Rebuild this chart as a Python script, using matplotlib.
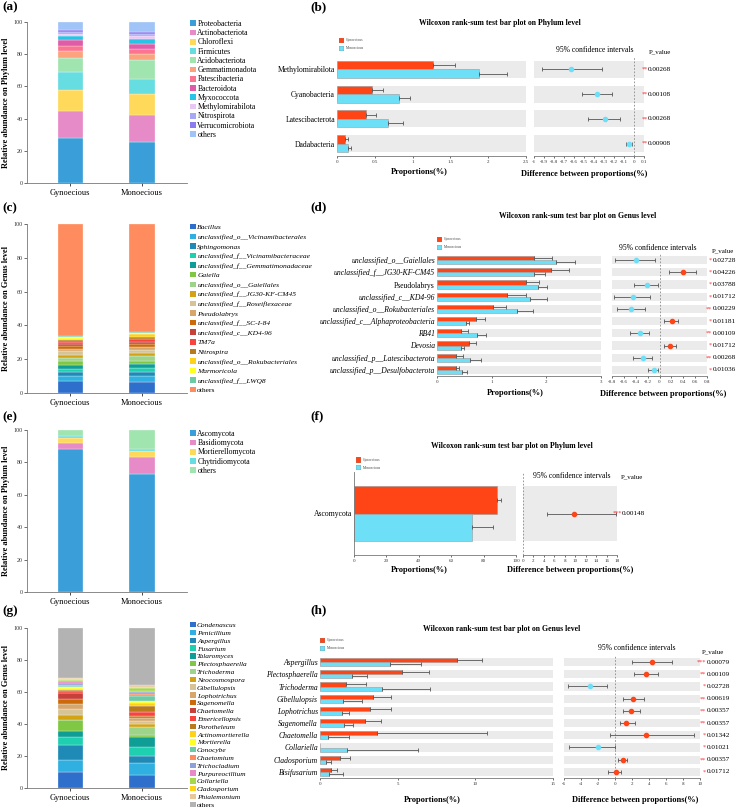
import matplotlib

matplotlib.use("Agg")
import matplotlib.pyplot as plt
import matplotlib.transforms as mtransforms
from matplotlib.patches import Patch
import numpy as np

plt.rcParams["font.family"] = ["Liberation Serif", "DejaVu Serif"]

W, H = 738, 810
GROUPS = ["Gynoecious", "Monoecious"]
RED = "#ff4516"
CYAN = "#6ddff7"
BAND = "#ebebeb"

# ---- (a) bacteria, phylum level (segment sizes, %) ----
PHY_B_NAMES = ["Proteobacteria", "Actinobacteriota", "Chloroflexi", "Firmicutes",
               "Acidobacteriota", "Gemmatimonadota", "Patescibacteria", "Bacteroidota",
               "Myxococcota", "Methylomirabilota", "Nitrospirota", "Verrucomicrobiota",
               "others"]
PHY_B_GYN = [27.8, 16.9, 13.0, 11.2, 9.0, 4.0, 3.0, 3.8, 2.8, 1.3, 0.8, 1.2, 5.2]
PHY_B_MONO = [25.6, 16.7, 12.8, 9.8, 11.6, 3.5, 3.5, 3.1, 3.1, 1.6, 1.5, 1.2, 6.0]
PHY_B_COLORS = ["#3a9fd9", "#e78ac8", "#ffd95a", "#66dde0", "#a0e4b0", "#fca27e",
                "#fb7590", "#df5ca8", "#27c4e6", "#eac6f5", "#a5a8f5", "#8b7cf0",
                "#a0c4f8"]

# ---- (b) Wilcoxon, bacteria phylum ----
B_CATS = ["Methylomirabilota", "Cyanobacteria", "Latescibacterota", "Dadabacteria"]
B_GYN = [1.27, 0.46, 0.39, 0.10]
B_GYN_ERR = [0.29, 0.15, 0.13, 0.04]
B_MONO = [1.88, 0.82, 0.67, 0.15]
B_MONO_ERR = [0.37, 0.15, 0.20, 0.04]
B_DIFF = [-0.63, -0.37, -0.29, -0.05]
B_LO = [-0.92, -0.52, -0.46, -0.08]
B_HI = [-0.32, -0.22, -0.14, -0.02]
B_P = ["0.00268", "0.00108", "0.00268", "0.00908"]
B_STARS = ["**", "**", "**", "**"]

# ---- (c) bacteria, genus level ----
GEN_B_NAMES = ["Bacillus", "unclassified_o__Vicinamibacterales", "Sphingomonas",
               "unclassified_f__Vicinamibacteraceae", "unclassified_f__Gemmatimonadaceae",
               "Gaiella", "unclassified_o__Gaiellales", "unclassified_f__JG30-KF-CM45",
               "unclassified_f__Roseiflexaceae", "Pseudolabrys", "unclassified_f__SC-I-84",
               "unclassified_c__KD4-96", "TM7a", "Nitrospira",
               "unclassified_o__Rokubacteriales", "Marmoricola", "unclassified_f__LWQ8",
               "others"]
GEN_B_GYN = [6.9, 3.0, 2.3, 2.0, 2.2, 2.3, 2.0, 2.0, 2.0, 1.5, 1.4, 1.6, 0.8, 1.2,
             0.8, 1.1, 0.4, 66.5]
GEN_B_MONO = [6.3, 3.6, 2.3, 2.6, 2.4, 1.5, 3.0, 2.0, 1.9, 1.6, 1.6, 1.6, 1.6, 1.1,
              1.6, 0.8, 0.8, 63.7]
GEN_B_COLORS = ["#2f6fcc", "#2fb0e0", "#1f8ab5", "#1ecfb0", "#0f9e96", "#80c844",
                "#9ed38a", "#d4a314", "#d6c496", "#d6a66a", "#cc6a0a", "#c8403a",
                "#f8433f", "#b87a1a", "#ffd21a", "#ffff22", "#6ccaa5", "#ff8c5e"]

# ---- (d) Wilcoxon, bacteria genus ----
D_CATS = ["unclassified_o__Gaiellales", "unclassified_f__JG30-KF-CM45", "Pseudolabrys",
          "unclassified_c__KD4-96", "unclassified_o__Rokubacteriales",
          "unclassified_c__Alphaproteobacteria", "RB41", "Devosia",
          "unclassified_p__Latescibacterota", "unclassified_p__Desulfobacterota"]
D_ITALIC = [True, True, False, True, True, True, True, True, True, True]
D_GYN = [1.78, 2.09, 1.63, 1.28, 1.02, 0.71, 0.43, 0.58, 0.35, 0.35]
D_GYN_ERR = [0.33, 0.32, 0.24, 0.34, 0.24, 0.16, 0.14, 0.13, 0.12, 0.06]
D_MONO = [2.18, 1.77, 1.84, 1.70, 1.47, 0.53, 0.74, 0.43, 0.61, 0.46]
D_MONO_ERR = [0.35, 0.21, 0.17, 0.31, 0.28, 0.05, 0.16, 0.06, 0.20, 0.09]
D_DIFF = [-0.40, 0.39, -0.21, -0.45, -0.48, 0.21, -0.33, 0.17, -0.27, -0.10]
D_LO = [-0.75, 0.16, -0.43, -0.77, -0.71, 0.08, -0.49, 0.07, -0.44, -0.20]
D_HI = [-0.08, 0.62, -0.03, -0.16, -0.25, 0.31, -0.18, 0.28, -0.13, -0.03]
D_P = ["0.02728", "0.04226", "0.03788", "0.01712", "0.00229", "0.01181", "0.00109",
       "0.01712", "0.00268", "0.01036"]
D_STARS = ["*", "*", "*", "*", "**", "*", "**", "*", "**", "*"]

# ---- (e) fungi, phylum level ----
PHY_F_NAMES = ["Ascomycota", "Basidiomycota", "Mortierellomycota", "Chytridiomycota",
               "others"]
PHY_F_GYN = [88.2, 3.8, 3.1, 1.0, 3.9]
PHY_F_MONO = [72.8, 10.5, 3.5, 1.4, 11.8]
PHY_F_COLORS = ["#3a9fd9", "#e78ac8", "#ffd95a", "#66dde0", "#a0e4b0"]

# ---- (f) Wilcoxon, fungi phylum ----
F_CATS = ["Ascomycota"]
F_GYN = [88.5]
F_GYN_ERR = [2.4]
F_MONO = [72.6]
F_MONO_ERR = [13.0]
F_DIFF = [9.8]
F_LO = [4.5]
F_HI = [17.9]
F_P = ["0.00148"]
F_STARS = ["***"]

# ---- (g) fungi, genus level ----
GEN_F_NAMES = ["Condenascus", "Penicillium", "Aspergillus", "Fusarium", "Talaromyces",
               "Plectosphaerella", "Trichoderma", "Neocosmospora", "Gibellulopsis",
               "Lophotrichus", "Sagenomella", "Chaetomella", "Emericellopsis",
               "Porotheleum", "Actinomortierella", "Mortierella", "Conocybe",
               "Chaetomium", "Trichocladium", "Purpureocillium", "Collariella",
               "Cladosporium", "Phialemonium", "others"]
GEN_F_GYN = [9.7, 7.9, 9.0, 5.0, 4.2, 6.5, 0.4, 3.0, 3.6, 3.2, 3.0, 3.8, 1.4, 0.4,
             0.8, 1.5, 0.3, 0.6, 1.2, 1.3, 0.4, 1.0, 0.8, 31.0]
GEN_F_MONO = [8.2, 7.3, 4.7, 5.7, 5.7, 1.6, 4.7, 2.0, 1.9, 1.8, 1.3, 0.2, 2.6, 3.8,
              1.4, 1.7, 2.9, 1.3, 1.4, 0.6, 1.9, 0.6, 0.9, 35.8]
GEN_F_COLORS = ["#2e6fcc", "#2fb0e0", "#1f8ab5", "#1ecfb0", "#0f9e96", "#80c844",
                "#9ed38a", "#d4a314", "#d6c496", "#d6a66a", "#cc6a0a", "#c8403a",
                "#f8433f", "#b87a1a", "#ffd21a", "#ffff22", "#6ccaa5", "#ff8c5e",
                "#8fa0d8", "#e88ac8", "#a8d84a", "#ffd21a", "#e8c898", "#b3b3b3"]

# ---- (h) Wilcoxon, fungi genus ----
H_CATS = ["Aspergillus", "Plectosphaerella", "Trichoderma", "Gibellulopsis",
          "Lophotrichus", "Sagenomella", "Chaetomella", "Collariella", "Cladosporium",
          "Bisifusarium"]
H_GYN = [8.85, 5.29, 1.65, 3.38, 3.21, 2.89, 3.70, 0.0, 1.26, 0.69]
H_GYN_ERR = [1.60, 1.71, 1.28, 1.16, 1.39, 1.01, 7.07, 0.0, 0.64, 0.42]
H_MONO = [4.52, 2.03, 3.96, 1.46, 1.39, 1.56, 0.54, 1.71, 0.36, 0.58]
H_MONO_ERR = [1.95, 1.01, 3.09, 1.22, 0.49, 0.58, 1.34, 4.63, 0.33, 0.92]
H_DIFF = [4.35, 3.64, -2.94, 2.14, 1.90, 1.35, 3.60, -1.99, 0.92, 0.10]
H_LO = [1.99, 2.26, -5.50, 0.96, 0.96, 0.60, -0.61, -5.40, 0.37, -0.80]
H_HI = [6.67, 5.10, -0.93, 3.40, 2.98, 2.34, 9.35, 0.00, 1.43, 0.76]
H_P = ["0.00079", "0.00109", "0.02728", "0.00619", "0.00357", "0.00357", "0.01342",
       "0.01021", "0.00357", "0.01712"]
H_STARS = ["***", "**", "*", "**", "**", "**", "*", "*", "**", "*"]


fig = plt.figure(figsize=(W / 100, H / 100), dpi=100)


def add_ax(x0, y0, x1, y1):
    return fig.add_axes([x0 / W, 1 - y1 / H, (x1 - x0) / W, (y1 - y0) / H])


def ftext(x, y, s, **kw):
    fig.text(x / W, 1 - y / H, s, **kw)


def stack_panel(box, names, gyn, mono, colors, ylabel, leg_y, leg_fs, leg_sp,
                italic=False):
    ax = add_ax(*box)
    bottom = np.zeros(2)
    handles = []
    for name, g, m, c in zip(names, gyn, mono, colors):
        vals = np.array([g, m])
        ax.bar([0, 1], vals, bottom=bottom, width=0.35, color=c,
               edgecolor="white", linewidth=0.2)
        bottom += vals
        handles.append(Patch(facecolor=c, label=name))
    ax.set_xlim(-0.6, 1.625)
    ax.set_ylim(0, 100)
    for s in ["top", "right"]:
        ax.spines[s].set_visible(False)
    for s in ["left", "bottom"]:
        ax.spines[s].set_color("#777")
        ax.spines[s].set_linewidth(0.6)
    ax.set_yticks(range(0, 101, 20))
    ax.set_xticks([0, 1])
    ax.set_xticklabels(GROUPS, fontsize=6)
    ax.tick_params(axis="y", labelsize=4.3, length=2, width=0.5, pad=1, colors="#333")
    ax.tick_params(axis="x", length=2, width=0.5, pad=2)
    ax.set_ylabel(ylabel, fontsize=6, fontweight="bold", labelpad=3)
    leg = fig.legend(handles=handles, loc="upper left",
                     bbox_to_anchor=(190 / W, 1 - leg_y / H), frameon=False,
                     fontsize=leg_fs, handlelength=0.75, handleheight=0.75,
                     handletextpad=0.2, labelspacing=leg_sp, borderpad=0,
                     borderaxespad=0)
    if italic:
        for t in leg.get_texts():
            if t.get_text() != "others":
                t.set_style("italic")
    return ax


def wilcox(lbox, rbox, cats, g, ge, m, me, d, lo, hi, pv, stars,
           lxlim, lxticks, lxlabels, rxlim, rxticks, rxlabels,
           title, title_xy, leg_xy, ci_xy, pval_xy, p_x, star_x,
           xl_left, xl_right, italic=None, left_spine=False, hb=0.34):
    n = len(cats)
    y = np.arange(n)
    axl = add_ax(*lbox)
    axr = add_ax(*rbox)
    for ax, xl in [(axl, lxlim), (axr, rxlim)]:
        ax.barh(y, xl[1] - xl[0], left=xl[0], height=2 * hb, color=BAND, zorder=0)
        ax.set_xlim(*xl)
        ax.set_ylim(n - 0.5, -0.5)
        for s in ["top", "right", "left"]:
            ax.spines[s].set_visible(False)
        ax.spines["bottom"].set_color("#777")
        ax.spines["bottom"].set_linewidth(0.6)
        ax.tick_params(axis="x", labelsize=3.6, length=1.5, width=0.5, pad=1.5,
                       colors="#333")
    axl.barh(y - hb / 2, g, height=hb, color=RED, edgecolor="#9a9a9a", lw=0.4,
             zorder=2)
    axl.barh(y + hb / 2, m, height=hb, color=CYAN, edgecolor="#9a9a9a", lw=0.4,
             zorder=2)
    for i in range(n):
        if g[i] > 0:
            axl.errorbar(g[i], i - hb / 2, xerr=[[0], [ge[i]]], fmt="none",
                         ecolor="#555", elinewidth=0.6, capsize=1.5,
                         capthick=0.6, zorder=3)
        axl.errorbar(m[i], i + hb / 2, xerr=[[0], [me[i]]], fmt="none",
                     ecolor="#555", elinewidth=0.6, capsize=1.5, capthick=0.6,
                     zorder=3)
    axl.set_xticks(lxticks)
    axl.set_xticklabels(lxlabels)
    axl.set_yticks(y)
    axl.set_yticklabels(cats, fontsize=5.5)
    axl.tick_params(axis="y", length=0, pad=1.5)
    if italic is not None:
        for t, it in zip(axl.get_yticklabels(), italic):
            t.set_style("italic" if it else "normal")
    if left_spine:
        axl.spines["left"].set_visible(True)
        axl.spines["left"].set_color("#777")
        axl.spines["left"].set_linewidth(0.6)
    axr.axvline(0, color="#888", ls=(0, (2, 2)), lw=0.6, zorder=1)
    for i in range(n):
        col = RED if d[i] > 0 else CYAN
        axr.errorbar(d[i], i, xerr=[[d[i] - lo[i]], [hi[i] - d[i]]], fmt="o",
                     color=col, ms=3, mec=col, ecolor="#555", elinewidth=0.6,
                     capsize=1.5, capthick=0.6, zorder=3)
    axr.set_xticks(rxticks)
    axr.set_xticklabels(rxlabels)
    axr.set_yticks([])
    tr = mtransforms.blended_transform_factory(fig.transFigure, axr.transData)
    for i in range(n):
        axr.text(star_x / W, i, stars[i], transform=tr, color="#ff3030",
                 fontsize=4.5, ha="right", va="center")
        axr.text(p_x / W, i, pv[i], transform=tr, fontsize=5.2, ha="left",
                 va="center")
    ftext(*title_xy, title, fontsize=5.6, fontweight="bold", ha="center",
          va="center")
    ftext(*ci_xy, "95% confidence intervals", fontsize=5.5, ha="center", va="center")
    ftext(*pval_xy, "P_value", fontsize=5.0, ha="center", va="center")
    ftext(*xl_left, "Proportions(%)", fontsize=6, fontweight="bold", ha="center",
          va="center")
    ftext(*xl_right, "Difference between proportions(%)", fontsize=6,
          fontweight="bold", ha="center", va="center")
    lx, ly = leg_xy
    for k, (c, lab) in enumerate([(RED, "Gynoecious"), (CYAN, "Monoecious")]):
        yy = ly + 8 * k
        ax_leg = fig.add_axes([lx / W, 1 - (yy + 2.5) / H, 5 / W, 5 / H])
        ax_leg.set_axis_off()
        ax_leg.add_patch(plt.Rectangle((0, 0), 1, 1, facecolor=c,
                                       edgecolor="#888", lw=0.3))
        ftext(lx + 7, yy, lab, fontsize=2.6, ha="left", va="center", color="#444")
    return axl, axr


# (a)
stack_panel((27, 22, 187, 183), PHY_B_NAMES, PHY_B_GYN, PHY_B_MONO, PHY_B_COLORS,
            "Relative abundance on Phylum level", 20, 5.6, 0.16)
# (c)
stack_panel((27, 224, 187, 393), GEN_B_NAMES, GEN_B_GYN, GEN_B_MONO, GEN_B_COLORS,
            "Relative abundance on Genus level", 224, 5.4, 0.43, italic=True)
# (e)
stack_panel((27, 430, 187, 592), PHY_F_NAMES, PHY_F_GYN, PHY_F_MONO, PHY_F_COLORS,
            "Relative abundance on Phylum level", 430, 5.6, 0.16)
# (g)
stack_panel((27, 628, 187, 788), GEN_F_NAMES, GEN_F_GYN, GEN_F_MONO, GEN_F_COLORS,
            "Relative abundance on Genus level", 622, 5.3, 0.21, italic=True)

# (b)
wilcox((337, 57, 526, 156), (534, 57, 644, 156), B_CATS, B_GYN, B_GYN_ERR, B_MONO,
       B_MONO_ERR, B_DIFF, B_LO, B_HI, B_P, B_STARS,
       (0, 2.5), [0, 0.5, 1, 1.5, 2, 2.5], ["0", "0.5", "1", "1.5", "2", "2.5"],
       (-1, 0.1), np.round(np.arange(-1, 0.11, 0.1), 1),
       ["-1", "-0.9", "-0.8", "-0.7", "-0.6", "-0.5", "-0.4", "-0.3", "-0.2", "-0.1",
        "0", "0.1"],
       "Wilcoxon rank-sum test bar plot on Phylum level", (500, 23), (339, 40),
       (595, 50), (660, 52), 648, 648, (419, 172), (584, 174))

# (d)
wilcox((437, 254, 601, 376), (612, 254, 707, 376), D_CATS, D_GYN, D_GYN_ERR, D_MONO,
       D_MONO_ERR, D_DIFF, D_LO, D_HI, D_P, D_STARS,
       (0, 3), [0, 1, 2, 3], ["0", "1", "2", "3"],
       (-0.8, 0.8), np.round(np.arange(-0.8, 0.81, 0.2), 1),
       ["-0.8", "-0.6", "-0.4", "-0.2", "0", "0.2", "0.4", "0.6", "0.8"],
       "Wilcoxon rank-sum test bar plot on Genus level", (578, 216), (437, 239),
       (658, 248), (723, 251), 713, 712, (515, 393), (663, 394), italic=D_ITALIC)

# (f)
wilcox((354, 472, 516, 555), (523, 472, 617, 555), F_CATS, F_GYN, F_GYN_ERR, F_MONO,
       F_MONO_ERR, F_DIFF, F_LO, F_HI, F_P, F_STARS,
       (0, 100), list(range(0, 101, 20)), ["0", "20", "40", "60", "80", "100"],
       (0, 18), list(range(0, 19, 2)), [str(v) for v in range(0, 19, 2)],
       "Wilcoxon rank-sum test bar plot on Phylum level", (512, 446), (356, 460),
       (572, 476), (632, 477), 622, 622, (419, 570), (570, 570),
       left_spine=True, hb=0.334)

# (h)
wilcox((320, 656, 553, 778), (564, 656, 700, 778), H_CATS, H_GYN, H_GYN_ERR, H_MONO,
       H_MONO_ERR, H_DIFF, H_LO, H_HI, H_P, H_STARS,
       (0, 15), [0, 5, 10, 15], ["0", "5", "10", "15"],
       (-6, 10), list(range(-6, 11, 2)), [str(v) for v in range(-6, 11, 2)],
       "Wilcoxon rank-sum test bar plot on Genus level", (502, 629), (320, 640),
       (637, 648), (713, 652), 707, 706, (432, 800), (635, 800),
       italic=[True] * 10)

for lab, x, y in [("(a)", 2, 1), ("(b)", 310, 1), ("(c)", 2, 202), ("(d)", 310, 201),
                  ("(e)", 2, 411), ("(f)", 310, 410), ("(g)", 2, 605), ("(h)", 310, 604)]:
    ftext(x, y, lab, fontsize=9.5, fontweight="bold", ha="left", va="top")

fig.savefig("out.png", dpi=100)
